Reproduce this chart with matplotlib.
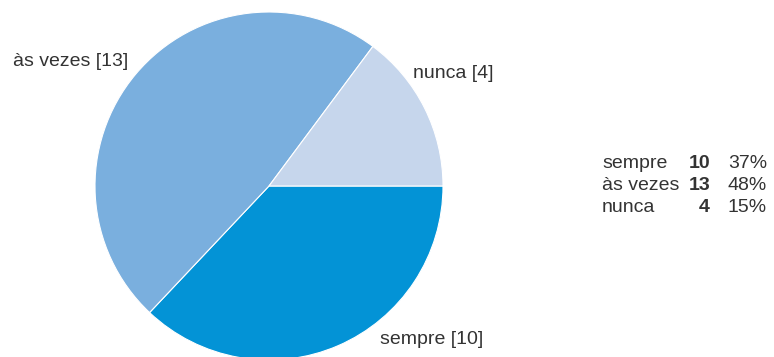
"""
Pie chart of answer frequency (sempre / às vezes / nunca) with a small
count and percentage table on the right.
"""

import matplotlib.pyplot as plt

OUTPUT_FILE = "out.png"
DPI = 100

# Answer categories and how many people chose each one.
categories = ["sempre", "às vezes", "nunca"]
counts = [10, 13, 4]
percent_labels = ["37%", "48%", "15%"]
colors = ["#0393d6", "#7aafde", "#c6d6ec"]

plt.rcParams.update(
    {
        "font.family": ["Liberation Sans", "DejaVu Sans"],
        "font.size": 14,
        "text.color": "#333333",
    }
)

fig = plt.figure(figsize=(7.74, 3.57), dpi=DPI)
ax = fig.add_axes([0, 0, 1, 1])

# Pixel-like data coordinates with y growing downward, so wedges laid out
# counter-clockwise in data space run clockwise from 3 o'clock on screen.
cx, cy, r = 269, 186, 174
ax.pie(
    counts,
    colors=colors,
    startangle=0,
    counterclock=True,
    center=(cx, cy),
    radius=r,
    wedgeprops={"edgecolor": "white", "linewidth": 0.8},
)
ax.set_xlim(0, 774)
ax.set_ylim(357, 0)
ax.set_aspect("equal")
ax.axis("off")

# Slice labels
ax.text(380, 339, f"{categories[0]} [{counts[0]}]", ha="left", va="center")
ax.text(13, 62, f"{categories[1]} [{counts[1]}]", ha="left", va="center")
ax.text(413, 74, f"{categories[2]} [{counts[2]}]", ha="left", va="center")

# Summary table: name, bold count, percentage
row_y = [163, 185, 208]
for name, n, pct, y in zip(categories, counts, percent_labels, row_y):
    ax.text(602, y, name, ha="left", va="center")
    ax.text(710, y, str(n), ha="right", va="center", fontweight="bold")
    ax.text(767, y, pct, ha="right", va="center")

fig.savefig(OUTPUT_FILE, dpi=DPI)
plt.close(fig)
